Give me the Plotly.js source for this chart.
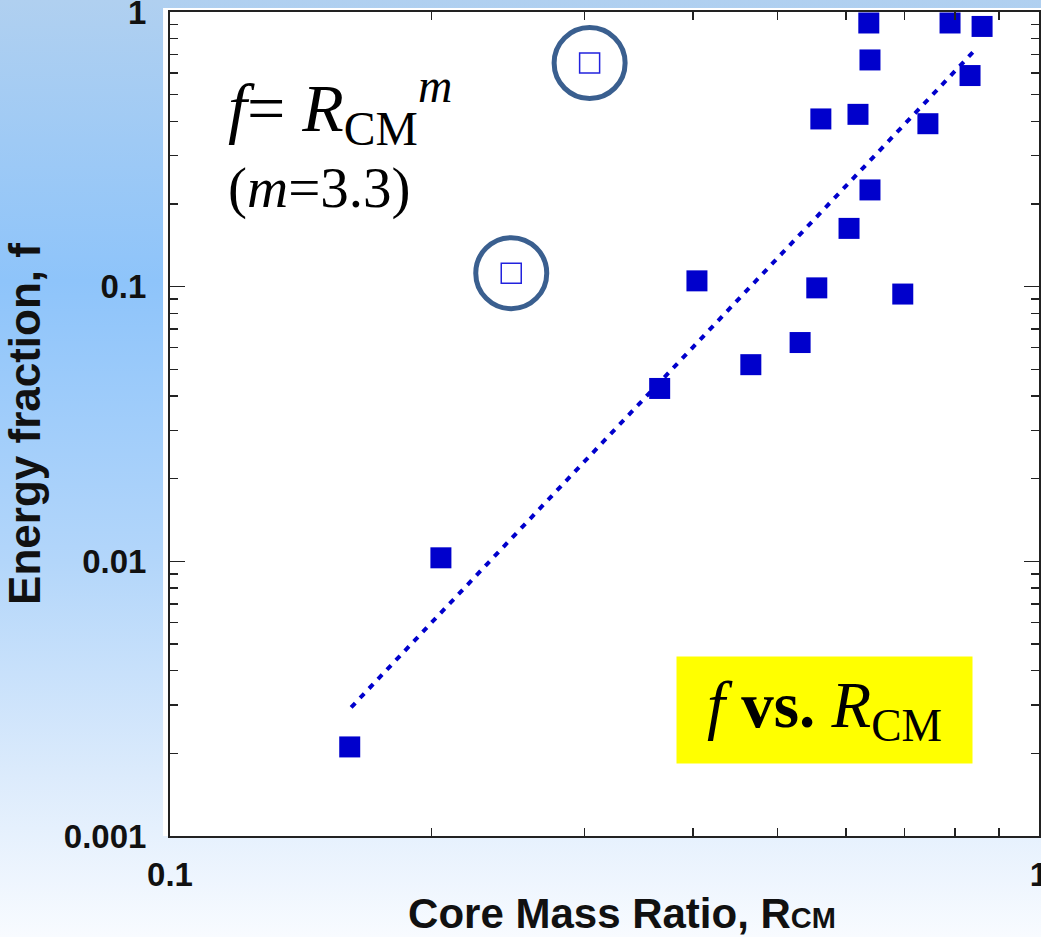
<!DOCTYPE html>
<html>
<head>
<meta charset="utf-8">
<script src="https://cdn.plot.ly/plotly-3.0.1.min.js"></script>
<style>
html,body{margin:0;padding:0;}
body{width:1041px;height:937px;overflow:hidden;
background:linear-gradient(to bottom,#b0d0f0 0%,#8ec4fa 30%,#b3d6fa 60%,#dcebfc 83%,#f8fbff 100%);}
#chart{width:1041px;height:937px;}
</style>
</head>
<body>
<div id="chart"></div>
<script>
// Core mass ratio (x) and energy fraction (y) of the filled points
const coreMassRatio = [0.161, 0.205, 0.366, 0.404, 0.466, 0.531, 0.555, 0.561, 0.6045, 0.619, 0.637, 0.639, 0.639, 0.697, 0.745, 0.790, 0.833, 0.860];
const energyFraction = [0.00211, 0.0103, 0.0426, 0.105, 0.052, 0.0626, 0.099, 0.408, 0.163, 0.424, 0.912, 0.669, 0.225, 0.094, 0.392, 0.912, 0.587, 0.886];
// Circled outliers (hollow squares)
const outlierRatio = [0.304, 0.247];
const outlierFraction = [0.652, 0.112];
// Power-law fit line end points, f = R^m (m = 3.3)
const fitRatio = [0.1616, 0.844];
const fitFraction = [0.00294, 0.727];
// Tick labels
const yTickVals = [0.001, 0.01, 0.1, 1];
const yTickText = ['0.001', '0.01', '0.1', '1'];
const xTickVals = [0.1, 1];
const xTickText = ['0.1', '1'];

const blue = '#0000cc';
const traces = [
  {x: fitRatio, y: fitFraction, type: 'scatter', mode: 'lines',
   line: {color: blue, width: 4, dash: '6px,7px'}, hoverinfo: 'skip'},
  {x: coreMassRatio, y: energyFraction, type: 'scatter', mode: 'markers',
   marker: {symbol: 'square', size: 21, color: blue, line: {width: 0}}},
  {x: outlierRatio, y: outlierFraction, type: 'scatter', mode: 'markers',
   marker: {symbol: 'square-open', size: 20, color: '#2222dd', line: {width: 1.5, color: '#2222dd'}}},
  {x: outlierRatio, y: outlierFraction, type: 'scatter', mode: 'markers',
   marker: {symbol: 'circle-open', size: 71, color: '#3a5f8f', line: {width: 5, color: '#3a5f8f'}}}
];

const axisCommon = {
  type: 'log', showgrid: false, zeroline: false,
  showline: true, linecolor: '#222', linewidth: 2, mirror: 'ticks',
  ticks: 'inside', ticklen: 15, tickwidth: 1.5, tickcolor: '#222',
  ticklabeloverflow: 'allow',
  minor: {ticks: 'inside', ticklen: 8, tickwidth: 1.5, tickcolor: '#222', dtick: 'D1', showgrid: false},
  tickfont: {family: 'Arial, Liberation Sans, sans-serif', size: 33, color: '#111', weight: 'bold'}
};

const layout = {
  width: 1041, height: 937,
  margin: {l: 170, r: 2, t: 12, b: 101},
  paper_bgcolor: 'rgba(0,0,0,0)',
  plot_bgcolor: '#ffffff',
  showlegend: false,
  xaxis: Object.assign({}, axisCommon, {
    range: [-1, 0], dtick: 1, tickvals: xTickVals, ticktext: xTickText,
    ticklabelstandoff: 8,
    title: {text: '&nbsp;&nbsp;&nbsp;Core Mass Ratio, R<span style="font-size:29px">CM</span>', standoff: 22,
            font: {family: 'Arial, Liberation Sans, sans-serif', size: 42, color: '#111', weight: 'bold'}}
  }),
  yaxis: Object.assign({}, axisCommon, {
    range: [-3, 0], dtick: 1, tickvals: yTickVals, ticktext: yTickText,
    ticklabelstandoff: 15,
    title: {text: 'Energy fraction, f', standoff: 9,
            font: {family: 'Arial, Liberation Sans, sans-serif', size: 44, color: '#111', weight: 'bold'}}
  }),
  shapes: [
    {type: 'rect', xref: 'paper', yref: 'paper', x0: -0.008, x1: 1.01, y0: 0, y1: 1.005,
     fillcolor: '#ffffff', line: {width: 0}, layer: 'below'}
  ],
  annotations: [
    {xref: 'paper', yref: 'paper', x: 0.064, y: 0.884, xanchor: 'left', yanchor: 'middle', showarrow: false,
     text: '<i>f</i>= <i>R</i><sub>CM</sub><sup><i>m</i></sup>',
     font: {family: 'Liberation Serif, Times New Roman, serif', size: 68, color: '#000'}},
    {xref: 'paper', yref: 'paper', x: 0.064, y: 0.787, xanchor: 'left', yanchor: 'middle', showarrow: false,
     text: '(<i>m</i>=3.3)',
     font: {family: 'Liberation Serif, Times New Roman, serif', size: 57, color: '#000'}},
    {xref: 'paper', yref: 'paper', x: 0.753, y: 0.153, xanchor: 'center', yanchor: 'middle', showarrow: false,
     text: '<i>f</i> <b>vs.</b> <i>R</i><sub>CM</sub>', width: 295, height: 106, bgcolor: '#ffff00', borderpad: 0,
     font: {family: 'Liberation Serif, Times New Roman, serif', size: 65, color: '#000'}}
  ]
};

Plotly.newPlot('chart', traces, layout, {displayModeBar: false, staticPlot: true});
</script>
</body>
</html>
